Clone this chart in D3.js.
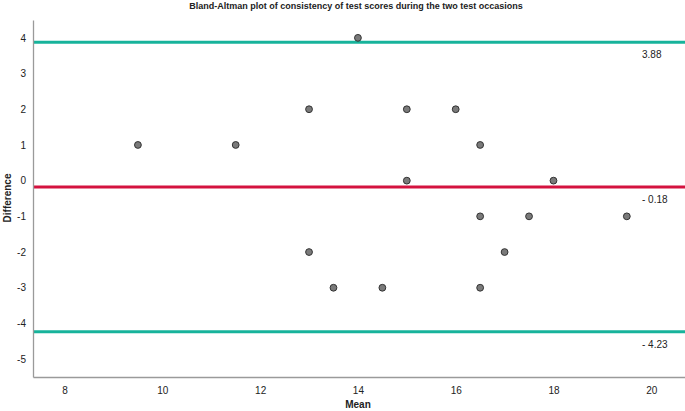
<!DOCTYPE html>
<html>
<head>
<meta charset="utf-8">
<script src="https://cdn.jsdelivr.net/npm/d3@7"></script>
<style>
  body { margin: 0; background: #fff; }
  text { font-family: "Liberation Sans", Arial, sans-serif; fill: #222; }
</style>
</head>
<body>
<div class="chart"></div>
<script>
var svgWidth = 685;
var svgHeight = 411;

// data
var means = [9.5, 11.5, 13, 13, 13.5, 14, 14.5, 15, 15, 16, 16.5, 16.5, 16.5, 17, 17.5, 18, 19.5];
var diffs = [1, 1, 2, -2, -3, 4, -3, 2, 0, 2, 1, -1, -3, -2, -1, 0, -1];
var refValues = [3.88, -0.18, -4.23];
var refLabels = ["3.88", "- 0.18", "- 4.23"];
var refColors = ["#17b39b", "#d4123f", "#17b39b"];
var xTicks = [8, 10, 12, 14, 16, 18, 20];
var yTicks = [4, 3, 2, 1, 0, -1, -2, -3, -4, -5];

var margin = { top: 20, right: 0, bottom: 34, left: 33 };
var width = svgWidth - margin.left - margin.right;
var height = svgHeight - margin.top - margin.bottom;

var svg = d3.select(".chart")
  .append("svg")
  .attr("width", svgWidth)
  .attr("height", svgHeight);

var chart = svg.append("g")
  .attr("transform", `translate(${margin.left}, ${margin.top})`);

var x = d3.scaleLinear().domain([7.354, 20.69]).range([0, width]);
var y = d3.scaleLinear().domain([-5.5, 4.5]).range([height, 0]);

// reference lines
chart.selectAll(".ref")
  .data(refValues)
  .enter()
  .append("line")
  .attr("x1", 0)
  .attr("x2", width)
  .attr("y1", d => y(d))
  .attr("y2", d => y(d))
  .attr("stroke", (d, i) => refColors[i])
  .attr("stroke-width", 3);

chart.selectAll(".refLabel")
  .data(refValues)
  .enter()
  .append("text")
  .attr("x", 609)
  .attr("y", d => y(d) + 16)
  .style("font-size", "10px")
  .text((d, i) => refLabels[i]);

// axes (plain hyphen for negatives, like the original)
var xAxis = d3.axisBottom(x).tickValues(xTicks).tickSize(0).tickPadding(10);
var yAxis = d3.axisLeft(y).tickValues(yTicks).tickSize(0).tickPadding(7)
  .tickFormat(d => String(d));

var gx = chart.append("g")
  .attr("transform", "translate(0," + height + ")")
  .call(xAxis);
var gy = chart.append("g").call(yAxis);

[gx, gy].forEach(function(g) {
  g.select(".domain").attr("stroke", "#9a9a9a").attr("stroke-width", 1.3);
  g.selectAll("text").style("font-size", "10px").attr("fill", "#222");
});

// markers
chart.selectAll("circle")
  .data(means)
  .enter()
  .append("circle")
  .attr("cx", d => x(d))
  .attr("cy", (d, i) => y(diffs[i]))
  .attr("r", 3.4)
  .attr("fill", "#7a7a7a")
  .attr("stroke", "#333")
  .attr("stroke-width", 1);

// titles
svg.append("text")
  .attr("x", 356)
  .attr("y", 9)
  .attr("text-anchor", "middle")
  .style("font-size", "9px")
  .style("font-weight", "bold")
  .text("Bland-Altman plot of consistency of test scores during the two test occasions");

svg.append("text")
  .attr("x", 358)
  .attr("y", 408)
  .attr("text-anchor", "middle")
  .style("font-size", "10px")
  .style("font-weight", "bold")
  .text("Mean");

svg.append("text")
  .attr("transform", "translate(11," + 198 + ") rotate(-90)")
  .attr("text-anchor", "middle")
  .style("font-size", "10px")
  .style("font-weight", "bold")
  .text("Difference");
</script>
</body>
</html>
